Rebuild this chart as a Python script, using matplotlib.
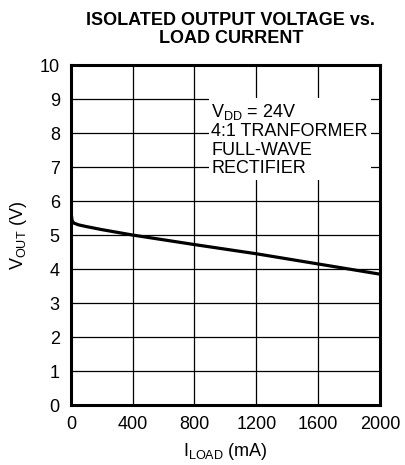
import matplotlib.pyplot as plt

plt.rcParams['font.family'] = ['Liberation Sans', 'DejaVu Sans']
plt.rcParams['mathtext.fontset'] = 'custom'
plt.rcParams['mathtext.rm'] = 'Liberation Sans'

# Curve
i_load = [0, 3, 8, 20, 50, 100, 200, 400, 800, 1200, 1600, 2000]
v_out = [6.0, 5.6, 5.42, 5.35, 5.3, 5.25, 5.16, 5.0, 4.72, 4.45, 4.15, 3.85]

x_ticks = [0, 400, 800, 1200, 1600, 2000]
y_ticks = list(range(0, 11))

fig = plt.figure(figsize=(4.05, 4.65), dpi=100)
ax = fig.add_axes([0.175, 0.129, 0.763, 0.731])

ax.plot(i_load, v_out, color='black', linewidth=2.3, solid_capstyle='butt', zorder=3)

ax.set_xlim(0, 2000)
ax.set_ylim(0, 10)
ax.set_xticks(x_ticks)
ax.set_yticks(y_ticks)
ax.tick_params(length=0, labelsize=13, pad=8)
ax.grid(True, color='black', linewidth=0.9)
for s in ax.spines.values():
    s.set_linewidth(2.2)

ax.text(910, 8.92, '$\\mathregular{V_{DD}}$ = 24V\n4:1 TRANFORMER\nFULL-WAVE\nRECTIFIER',
        fontsize=13, va='top', ha='left', linespacing=1.12,
        bbox=dict(facecolor='white', edgecolor='none', pad=2), zorder=4)

ax.set_xlabel('$\\mathregular{I_{LOAD}}$ (mA)', fontsize=13, labelpad=6)
ax.set_ylabel('$\\mathregular{V_{OUT}}$ (V)', fontsize=13, labelpad=8)

fig.text(0.57, 0.937, 'ISOLATED OUTPUT VOLTAGE vs.\nLOAD CURRENT', ha='center', va='center',
         fontsize=13, fontweight='bold', linespacing=1.1)

fig.savefig('out.png', dpi=100)
